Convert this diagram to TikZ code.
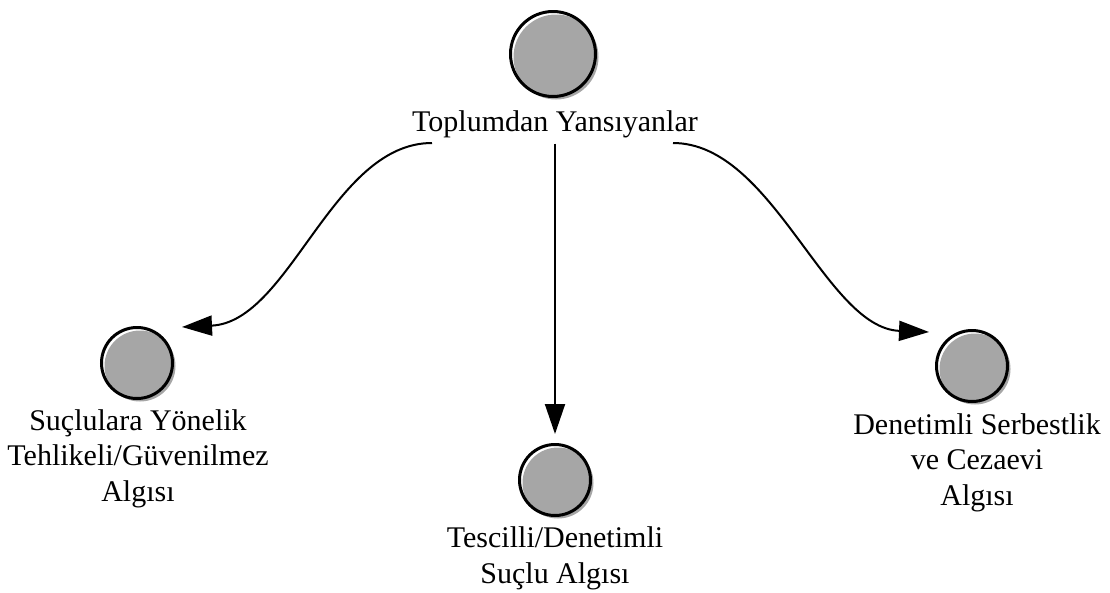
\documentclass[tikz,border=0pt]{standalone}
\usepackage{fontspec}
\setmainfont{Liberation Serif}
\usetikzlibrary{arrows.meta}
\begin{document}
\begin{tikzpicture}[x=1pt,y=-1pt,
  bub/.style={circle, draw=black, line width=3pt, inner sep=0pt,
    preaction={fill=gray!70, draw=none, transform canvas={shift={(3pt,-3pt)}}}},
  lbl/.style={font=\fontsize{30}{35.5}\selectfont, align=center, inner sep=0pt},
  arr/.style={line width=2pt, -{Triangle[length=30pt,width=20pt]}}]
\useasboundingbox (0,0) rectangle (1110,592);
% nodes
\node[bub, minimum size=85pt] (top) at (553,54) {};
\node[bub, minimum size=71pt] (left) at (137,363) {};
\node[bub, minimum size=71pt] (mid) at (555,480) {};
\node[bub, minimum size=71pt] (right) at (972,366) {};
% labels (base anchor = baseline of last line)
\node[lbl, anchor=base] (toptxt) at (555,131) {Toplumdan Yansıyanlar};
\node[lbl, anchor=base] (lefttxt) at (138,501) {Suçlulara Yönelik\\Tehlikeli/Güvenilmez\\Algısı};
\node[lbl, anchor=base] (midtxt) at (555,583) {Tescilli/Denetimli\\Suçlu Algısı};
\node[lbl, anchor=base] (righttxt) at (977,505) {Denetimli Serbestlik\\ve Cezaevi\\Algısı};
% connector ends
\coordinate (s1) at (432,143);
\coordinate (e1) at (182,327);
\coordinate (s3) at (673,143);
\coordinate (e3) at (929,332);
% connectors
\draw[arr] (s1) .. controls (332,143) and (290,322) .. (e1);
\draw[arr, shorten <=6pt, shorten >=9pt] (toptxt) -- (toptxt |- mid.north);
\draw[arr] (s3) .. controls (773,143) and (825,328) .. (e3);
\end{tikzpicture}
\end{document}
